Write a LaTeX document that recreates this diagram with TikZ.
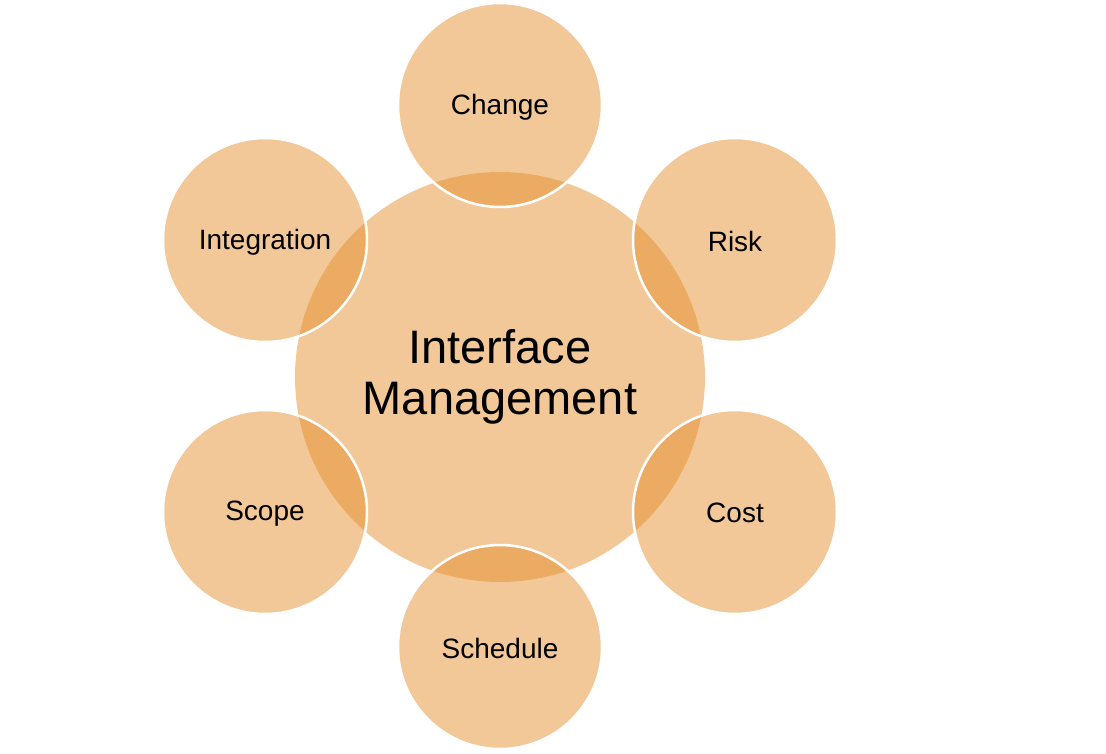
\documentclass[tikz,border=0pt]{standalone}
\usepackage{fontspec}
\setmainfont{Liberation Sans}
\definecolor{basecol}{RGB}{227,138,38}
\tikzset{
  hub/.style={circle, minimum size=410pt, inner sep=0pt, fill=basecol, fill opacity=0.47, text opacity=1, draw=none, align=center, font=\fontsize{47}{51}\selectfont},
  petal/.style={circle, minimum size=204pt, inner sep=0pt, fill=basecol, fill opacity=0.47, text opacity=1, draw=white, draw opacity=1, line width=2.5pt, font=\fontsize{28}{32}\selectfont},
  lbl/.style={inner sep=0pt, font=\fontsize{28}{32}\selectfont, text=black}
}
\begin{document}
\begin{tikzpicture}[x=1pt,y=-1pt]
\useasboundingbox (0,0) rectangle (1106,753);
\node[hub] (im) at (500,377) {Interface\\Management};
\node[petal] (change) at (500,105) {};
\node[petal] (risk) at (735,240) {};
\node[petal] (cost) at (735,512) {};
\node[petal] (schedule) at (500,647) {};
\node[petal] (scope) at (265,512) {};
\node[petal] (integration) at (265,240) {};
\node[lbl] (tchange) at ([yshift=-2pt]change.center) {Change};
\node[lbl] (trisk) at ([yshift=-1pt]risk.center) {Risk};
\node[lbl] (tcost) at ([yshift=-1pt]cost.center) {Cost};
\node[lbl] (tschedule) at ([yshift=-1pt]schedule.center) {Schedule};
\node[lbl] (tscope) at ([yshift=-2pt]scope.center) {Scope};
\node[lbl] (tintegration) at ([yshift=-2pt]integration.center) {Integration};
\end{tikzpicture}
\end{document}
